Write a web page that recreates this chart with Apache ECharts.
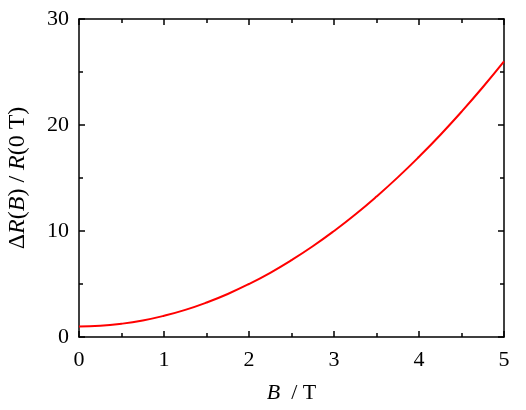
<!DOCTYPE html>
<html>
<head>
<meta charset="utf-8">
<script src="https://cdn.jsdelivr.net/npm/echarts@6/dist/echarts.min.js"></script>
<style>html,body{margin:0;padding:0;background:#fff}#c{width:526px;height:410px}</style>
</head>
<body>
<div id="c"></div>
<script>
const fieldB = [0, 0.25, 0.5, 0.75, 1, 1.25, 1.5, 1.75, 2, 2.25, 2.5, 2.75, 3, 3.25, 3.5, 3.75, 4, 4.25, 4.5, 4.75, 5];
const ratio = [1, 1.06, 1.25, 1.56, 2, 2.56, 3.25, 4.06, 5, 6.06, 7.25, 8.56, 10, 11.56, 13.25, 15.06, 17, 19.06, 21.25, 23.56, 26];
const xTicks = [0, 1, 2, 3, 4, 5];
const yTicks = [0, 10, 20, 30];

const font = 'Liberation Serif';
const chart = echarts.init(document.getElementById('c'));
const axisLine = {show: true, onZero: false, lineStyle: {color: '#000', width: 1.5}};
const tick = {show: true, inside: true, length: 6, lineStyle: {color: '#000', width: 1.5}};
const minor = {show: true, splitNumber: 2, length: 4, lineStyle: {color: '#000', width: 1.5}};
const lbl = {color: '#000', fontFamily: font, fontSize: 22};
const rich = sz => ({i: {fontFamily: font, fontSize: sz, fontStyle: 'italic', color: '#000'}, n: {fontFamily: font, fontSize: sz, color: '#000'}});
chart.setOption({
  animation: false,
  grid: {left: 79, right: 22, top: 19, bottom: 73, containLabel: false, outerBoundsMode: 'none'},
  xAxis: [{
    type: 'value', min: 0, max: 5, interval: 1, position: 'bottom',
    axisLine, axisTick: tick, minorTick: minor, splitLine: {show: false},
    axisLabel: Object.assign({margin: 12, formatter: v => xTicks.includes(v) ? String(v) : ''}, lbl),
    name: '{i|B}{n|  / T}', nameLocation: 'middle', nameGap: 45,
    nameTextStyle: {rich: rich(22)}
  }, {
    type: 'value', min: 0, max: 5, interval: 1, position: 'top',
    axisLine, axisTick: tick, minorTick: minor, splitLine: {show: false}, axisLabel: {show: false}
  }],
  yAxis: [{
    type: 'value', min: 0, max: 30, interval: 10, position: 'left',
    axisLine, axisTick: tick, minorTick: minor, splitLine: {show: false},
    axisLabel: Object.assign({margin: 10, formatter: v => yTicks.includes(v) ? String(v) : ''}, lbl),
    name: '{n|Δ}{i|R}{n|(}{i|B}{n|) / }{i|R}{n|(0 T)}', nameLocation: 'middle', nameGap: 49,
    nameTextStyle: {rich: rich(24)}
  }, {
    type: 'value', min: 0, max: 30, interval: 10, position: 'right',
    axisLine, axisTick: tick, minorTick: minor, splitLine: {show: false}, axisLabel: {show: false}
  }],
  series: [{
    type: 'line', xAxisIndex: 0, yAxisIndex: 0,
    data: fieldB.map((b, i) => [b, ratio[i]]),
    smooth: true, showSymbol: false,
    lineStyle: {color: '#ff0000', width: 2}
  }]
});
</script>
</body>
</html>
